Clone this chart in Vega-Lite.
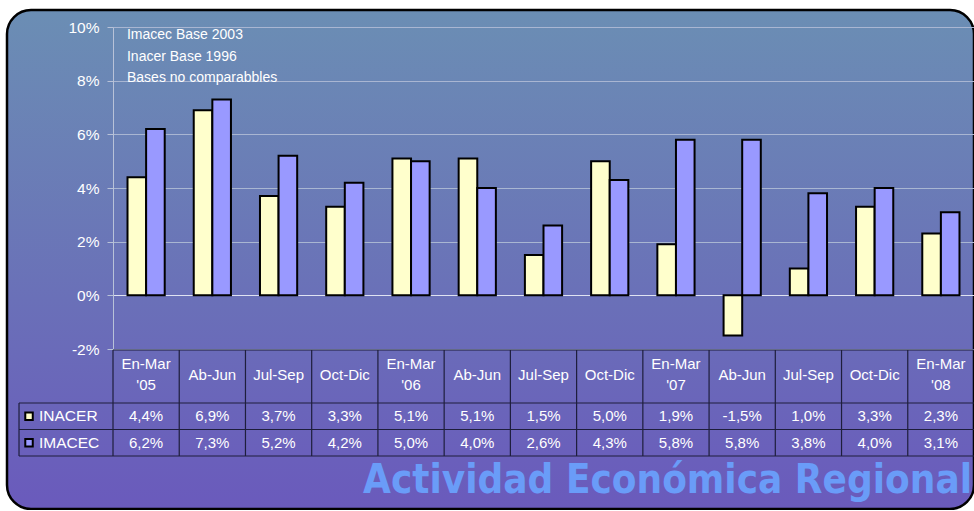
{
  "$schema": "https://vega.github.io/schema/vega-lite/v6.json",
  "width": 967,
  "height": 499,
  "padding": {"left": 7, "top": 10, "right": 0, "bottom": 1},
  "background": "#ffffff",
  "view": {
    "fill": {"gradient": "linear", "x1": 0, "y1": 0, "x2": 0, "y2": 1, "stops": [
      {"offset": 0, "color": "#6b8eb4"},
      {"offset": 0.58, "color": "#6a70b8"},
      {"offset": 1, "color": "#6a5abc"}
    ]},
    "stroke": "#000000",
    "strokeWidth": 2.5,
    "cornerRadius": 24
  },
  "config": {
    "font": "Liberation Sans",
    "locale": {"number": {"decimal": ",", "thousands": ".", "grouping": [3], "currency": ["$", ""], "minus": "-"}}
  },
  "datasets": {
    "main": [
      {"cat": "Q1-05", "label": "En-Mar\n'05", "series": "INACER", "value": 0.044},
      {"cat": "Q1-05", "label": "En-Mar\n'05", "series": "IMACEC", "value": 0.062},
      {"cat": "Q2-05", "label": "Ab-Jun", "series": "INACER", "value": 0.069},
      {"cat": "Q2-05", "label": "Ab-Jun", "series": "IMACEC", "value": 0.073},
      {"cat": "Q3-05", "label": "Jul-Sep", "series": "INACER", "value": 0.037},
      {"cat": "Q3-05", "label": "Jul-Sep", "series": "IMACEC", "value": 0.052},
      {"cat": "Q4-05", "label": "Oct-Dic", "series": "INACER", "value": 0.033},
      {"cat": "Q4-05", "label": "Oct-Dic", "series": "IMACEC", "value": 0.042},
      {"cat": "Q1-06", "label": "En-Mar\n'06", "series": "INACER", "value": 0.051},
      {"cat": "Q1-06", "label": "En-Mar\n'06", "series": "IMACEC", "value": 0.050},
      {"cat": "Q2-06", "label": "Ab-Jun", "series": "INACER", "value": 0.051},
      {"cat": "Q2-06", "label": "Ab-Jun", "series": "IMACEC", "value": 0.040},
      {"cat": "Q3-06", "label": "Jul-Sep", "series": "INACER", "value": 0.015},
      {"cat": "Q3-06", "label": "Jul-Sep", "series": "IMACEC", "value": 0.026},
      {"cat": "Q4-06", "label": "Oct-Dic", "series": "INACER", "value": 0.050},
      {"cat": "Q4-06", "label": "Oct-Dic", "series": "IMACEC", "value": 0.043},
      {"cat": "Q1-07", "label": "En-Mar\n'07", "series": "INACER", "value": 0.019},
      {"cat": "Q1-07", "label": "En-Mar\n'07", "series": "IMACEC", "value": 0.058},
      {"cat": "Q2-07", "label": "Ab-Jun", "series": "INACER", "value": -0.015},
      {"cat": "Q2-07", "label": "Ab-Jun", "series": "IMACEC", "value": 0.058},
      {"cat": "Q3-07", "label": "Jul-Sep", "series": "INACER", "value": 0.010},
      {"cat": "Q3-07", "label": "Jul-Sep", "series": "IMACEC", "value": 0.038},
      {"cat": "Q4-07", "label": "Oct-Dic", "series": "INACER", "value": 0.033},
      {"cat": "Q4-07", "label": "Oct-Dic", "series": "IMACEC", "value": 0.040},
      {"cat": "Q1-08", "label": "En-Mar\n'08", "series": "INACER", "value": 0.023},
      {"cat": "Q1-08", "label": "En-Mar\n'08", "series": "IMACEC", "value": 0.031}
    ]
  },
  "resolve": {"scale": {"y": "independent"}},
  "layer": [
    {
      "layer": [
        {
          "data": {"name": "main"},
          "mark": {"type": "bar", "stroke": "#000000", "strokeWidth": 2},
          "encoding": {
            "x": {"field": "cat", "type": "nominal", "axis": null,
              "scale": {"domain": ["Q1-05","Q2-05","Q3-05","Q4-05","Q1-06","Q2-06","Q3-06","Q4-06","Q1-07","Q2-07","Q3-07","Q4-07","Q1-08"], "range": [106, 967], "paddingInner": 0, "paddingOuter": 0}},
            "xOffset": {"field": "series", "type": "nominal", "scale": {"domain": ["INACER", "IMACEC"], "paddingInner": 0, "paddingOuter": 0.78}},
            "y": {"field": "value", "type": "quantitative", "stack": null,
              "scale": {"domain": [-0.02, 0.1], "range": [339, 17], "nice": false},
              "axis": {"offset": -106, "values": [-0.02, 0, 0.02, 0.04, 0.06, 0.08, 0.1], "format": ".0%", "title": null,
                "labelColor": "#ffffff", "labelFontSize": 15.5, "labelPadding": 8, "tickSize": 6, "tickColor": "#b8c2d8",
                "domainColor": "#b8c2d8", "grid": true,
                "gridColor": {"condition": {"test": "datum.value === 0", "value": "#dfe2f2"}, "value": "#a9b6d2"}}},
            "color": {"field": "series", "type": "nominal", "scale": {"domain": ["INACER", "IMACEC"], "range": ["#ffffcc", "#9999ff"]}, "legend": null}
          }
        },
        {
          "data": {"values": [{"note": "Imacec Base 2003\nInacer Base 1996\nBases no comparabbles"}]},
          "mark": {"type": "text", "align": "left", "baseline": "top", "color": "#ffffff", "fontSize": 14, "lineBreak": "\n", "lineHeight": 21.5, "dy": 1},
          "encoding": {
            "x": {"datum": "Q1-05", "bandPosition": 0.211, "axis": null},
            "y": {"datum": 0.1, "type": "quantitative"},
            "text": {"field": "note"}
          }
        }
      ]
    },
    {
      "layer": [
        {
          "data": {"name": "main"},
          "transform": [{"filter": "datum.series === 'INACER' && indexof(datum.label, '\\n') < 0"}],
          "mark": {"type": "text", "color": "#ffffff", "fontSize": 15, "baseline": "middle", "dy": -2},
          "encoding": {
            "x": {"field": "cat", "type": "nominal", "axis": null},
            "y": {"datum": "h2", "type": "nominal", "bandPosition": 0, "axis": null,
              "scale": {"domain": ["h1", "h2", "INACER", "IMACEC", "end"], "range": [340, 472.5], "paddingInner": 0, "paddingOuter": 0}},
            "text": {"field": "label"}
          }
        },
        {
          "data": {"name": "main"},
          "transform": [{"filter": "datum.series === 'INACER' && indexof(datum.label, '\\n') >= 0"}],
          "mark": {"type": "text", "color": "#ffffff", "fontSize": 15, "lineBreak": "\n", "lineHeight": 21, "baseline": "middle", "dy": -13},
          "encoding": {
            "x": {"field": "cat", "type": "nominal", "axis": null},
            "y": {"datum": "h2", "type": "nominal", "bandPosition": 0, "axis": null},
            "text": {"field": "label"}
          }
        },
        {
          "data": {"name": "main"},
          "mark": {"type": "text", "color": "#ffffff", "fontSize": 15, "baseline": "middle"},
          "encoding": {
            "x": {"field": "cat", "type": "nominal", "axis": null},
            "y": {"field": "series", "type": "nominal", "axis": null},
            "text": {"field": "value", "type": "quantitative", "format": ".1%"}
          }
        },
        {
          "data": {"name": "main"},
          "transform": [{"filter": "datum.cat === 'Q1-05'"}],
          "mark": {"type": "text", "color": "#ffffff", "fontSize": 15.5, "align": "left", "baseline": "middle"},
          "encoding": {
            "x": {"datum": "Q1-05", "bandPosition": -1.117, "axis": null},
            "y": {"field": "series", "type": "nominal", "axis": null},
            "text": {"field": "series"}
          }
        },
        {
          "data": {"name": "main"},
          "transform": [{"filter": "datum.cat === 'Q1-05'"}],
          "mark": {"type": "square", "filled": true, "stroke": "#000000", "strokeWidth": 2, "size": 56, "opacity": 1},
          "encoding": {
            "x": {"datum": "Q1-05", "bandPosition": -1.268, "axis": null},
            "y": {"field": "series", "type": "nominal", "axis": null},
            "color": {"field": "series", "type": "nominal", "legend": null}
          }
        },
        {
          "data": {"name": "main"},
          "transform": [{"filter": "datum.series === 'INACER'"}],
          "mark": {"type": "rule", "color": "#1e1e3c", "strokeWidth": 1.2},
          "encoding": {
            "x": {"field": "cat", "type": "nominal", "bandPosition": 0, "axis": null},
            "y": {"datum": "h1", "bandPosition": 0, "axis": null},
            "y2": {"datum": "end", "bandPosition": 0}
          }
        },
        {
          "data": {"values": [{"row": "INACER"}]},
          "mark": {"type": "rule", "color": "#1e1e3c", "strokeWidth": 1.2},
          "encoding": {
            "x": {"datum": "Q1-05", "bandPosition": -1.419, "axis": null},
            "y": {"field": "row", "type": "nominal", "bandPosition": 0, "axis": null},
            "y2": {"datum": "end", "bandPosition": 0}
          }
        },
        {
          "data": {"values": [{"row": "h1"}]},
          "mark": {"type": "rule", "color": "#1e1e3c", "strokeWidth": 1.2},
          "encoding": {
            "x": {"datum": "Q1-05", "bandPosition": 0, "axis": null},
            "x2": {"value": "width"},
            "y": {"field": "row", "type": "nominal", "bandPosition": 0, "axis": null}
          }
        },
        {
          "data": {"values": [{"row": "INACER"}, {"row": "IMACEC"}, {"row": "end"}]},
          "mark": {"type": "rule", "color": "#1e1e3c", "strokeWidth": 1.2},
          "encoding": {
            "x": {"datum": "Q1-05", "bandPosition": -1.419, "axis": null},
            "x2": {"value": "width"},
            "y": {"field": "row", "type": "nominal", "bandPosition": 0, "axis": null}
          }
        }
      ]
    },
    {
      "data": {"values": [{"t": "Actividad Económica Regional"}]},
      "mark": {"type": "text", "align": "right", "baseline": "alphabetic", "fontSize": 40, "fontWeight": "bold",
        "font": "DejaVu Sans Condensed, DejaVu Sans, sans-serif", "color": "#6a9cf8", "dx": -2, "dy": -16},
      "encoding": {
        "x": {"value": "width"},
        "y": {"value": "height"},
        "text": {"field": "t"}
      }
    }
  ]
}
